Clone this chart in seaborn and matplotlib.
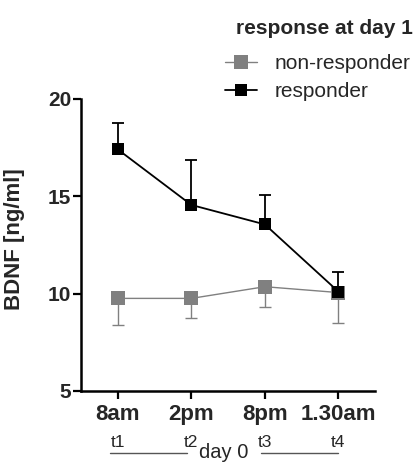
import matplotlib
matplotlib.use("Agg")
import matplotlib.pyplot as plt
import matplotlib.transforms as mtransforms
import seaborn as sns
import pandas as pd
from matplotlib.lines import Line2D

sns.set_theme(style="ticks")
plt.rcParams["font.family"] = ["Liberation Sans", "DejaVu Sans"]

# Sampling times (day 0) and group means / one-sided SEM
times = ["8am", "2pm", "8pm", "1.30am"]
time_codes = ["t1", "t2", "t3", "t4"]
groups = ["non-responder", "responder"]
nonresp_mean = [9.75, 9.75, 10.35, 10.05]
nonresp_err = [1.35, 1.0, 1.05, 1.55]
resp_mean = [17.4, 14.55, 13.55, 10.1]
resp_err = [1.35, 2.3, 1.5, 1.0]

palette = {"non-responder": "#808080", "responder": "#000000"}
marker_sizes = {"non-responder": 10, "responder": 8.5}
line_widths = {"non-responder": 1.0, "responder": 1.3}

df = pd.DataFrame({
    "time": list(range(len(times))) * 2,
    "group": [groups[0]] * len(times) + [groups[1]] * len(times),
    "BDNF": nonresp_mean + resp_mean,
    "err": nonresp_err + resp_err,
})

fig = plt.figure(figsize=(4.14, 4.62), dpi=100)
ax = fig.add_axes([0.196, 0.154, 0.710, 0.632])

# one-sided error bars: downward for non-responders, upward for responders
for g, sub in df.groupby("group"):
    lower = sub["err"] if g == "non-responder" else [0] * len(sub)
    upper = sub["err"] if g == "responder" else [0] * len(sub)
    ax.errorbar(sub["time"], sub["BDNF"], yerr=[lower, upper], fmt="none",
                ecolor=palette[g], elinewidth=line_widths[g], capsize=4,
                capthick=line_widths[g], zorder=2)

for g in groups:
    sns.lineplot(data=df[df["group"] == g], x="time", y="BDNF",
                 color=palette[g], marker="s", markersize=marker_sizes[g],
                 markeredgewidth=0, linewidth=line_widths[g], legend=False,
                 ax=ax, zorder=3)

ax.set_xlim(-0.5, 3.5)
ax.set_ylim(5, 20)
ax.set_yticks([5, 10, 15, 20])
ax.set_xticks(range(len(times)))
ax.set_xticklabels([])
for lbl in ax.get_yticklabels():
    lbl.set_fontweight("bold")
ax.tick_params(axis="y", labelsize=15, width=1.6, length=6, pad=1, color="black")
ax.tick_params(axis="x", width=1.6, length=6, color="black")
for s in ["left", "bottom"]:
    ax.spines[s].set_linewidth(1.8)
    ax.spines[s].set_color("black")
sns.despine(ax=ax)
ax.set_xlabel("")
ax.set_ylabel("BDNF [ng/ml]", fontsize=16, fontweight="bold")
ax.yaxis.set_label_coords(-0.19, 0.52)

# two-line x tick labels: clock time and sample code
trans = ax.get_xaxis_transform()
for i, (t, c) in enumerate(zip(times, time_codes)):
    ax.text(i, -0.08, t, transform=trans, ha="center", va="center",
            fontsize=16, fontweight="bold")
    ax.text(i, -0.178, c, transform=trans, ha="center", va="center",
            fontsize=12.5)

# "day 0" bracket under the axis
day_trans = mtransforms.blended_transform_factory(ax.transData, fig.transFigure)
ax.text(1.44, 0.0, "day 0", transform=day_trans, ha="center", va="bottom",
        fontsize=14.5)
for x0, x1 in [(-0.11, 0.94), (1.95, 3.0)]:
    ax.add_line(Line2D([x0, x1], [-0.213, -0.213], transform=trans,
                       color="#555555", linewidth=1.0, clip_on=False))

# legend: bold title above two marker/line entries
fig.text(0.998, 0.939, "response at day 1", ha="right", va="center",
         fontsize=15, fontweight="bold")
handles = [Line2D([], [], color=palette[g], marker="s",
                  markersize=marker_sizes[g], markeredgewidth=0,
                  linewidth=line_widths[g]) for g in groups]
leg = fig.legend(handles, groups, loc="upper left",
                 bbox_to_anchor=(225 / 414, 1 - 54 / 462),
                 frameon=False, fontsize=15, handlelength=1.55,
                 handletextpad=0.85, labelspacing=0.45, borderpad=0,
                 borderaxespad=0)

fig.savefig("out.png", dpi=100)
